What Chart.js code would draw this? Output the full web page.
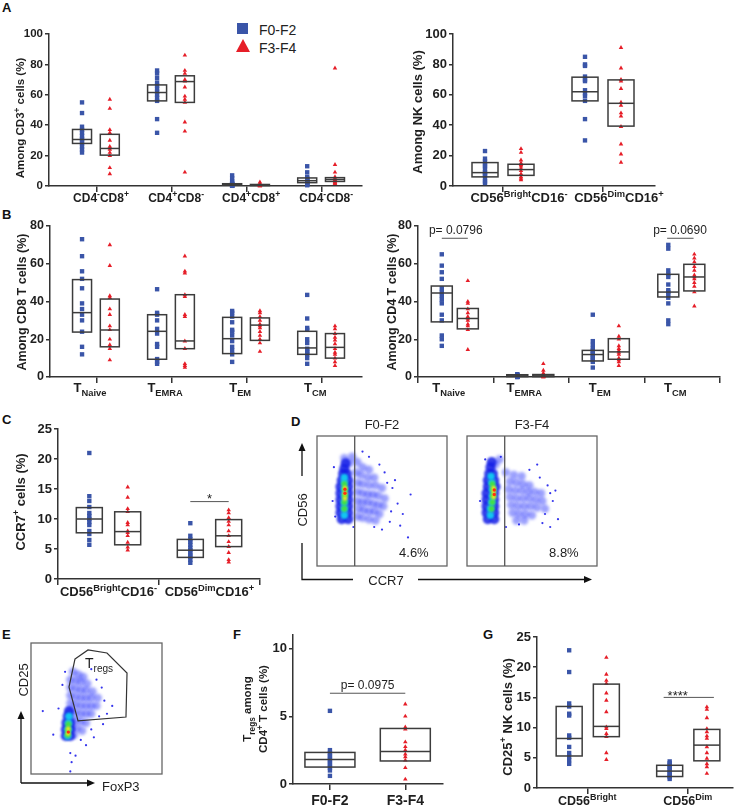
<!DOCTYPE html>
<html>
<head>
<meta charset="utf-8">
<script src="https://cdn.jsdelivr.net/npm/chart.js@4.4.1/dist/chart.umd.min.js"></script>
<style>
  body { margin: 0; background: #fff; }
  #fig { position: relative; width: 740px; height: 812px; overflow: hidden; font-family: 'Liberation Sans', Arial, sans-serif; }
  #fig canvas { position: absolute; left: 0; top: 0; }
  .tag { position: absolute; font-weight: bold; font-size: 13px; line-height: 13px; color: #111; }
  .leg { position: absolute; font-size: 14px; line-height: 14px; color: #222; }
</style>
</head>
<body>
<div id="fig">
  <div class="tag" style="left:2px;top:1px">A</div>
  <div class="tag" style="left:2px;top:208px">B</div>
  <div class="tag" style="left:2px;top:413px">C</div>
  <div class="tag" style="left:291px;top:415px">D</div>
  <div class="tag" style="left:2px;top:628px">E</div>
  <div class="tag" style="left:233px;top:628px">F</div>
  <div class="tag" style="left:483px;top:628px">G</div>
  <div style="position:absolute;left:237px;top:23px;width:11px;height:11px;background:#3a55a8"></div>
  <div style="position:absolute;left:236px;top:39px;width:0;height:0;border-left:7px solid transparent;border-right:7px solid transparent;border-bottom:13px solid #e61e28"></div>
  <div class="leg" style="left:259px;top:23px">F0-F2</div>
  <div class="leg" style="left:259px;top:41px">F3-F4</div>
</div>
<script>
// ---- panel A: CD3 subsets ----
const aLeftCats = ['CD4^{-}CD8^{+}', 'CD4^{+}CD8^{-}', 'CD4^{+}CD8^{+}', 'CD4^{-}CD8^{-}'];
const aLeftF02 = [
  [55, 48, 39, 37, 35, 33, 31, 30, 28, 26, 24, 22],
  [76, 74, 71, 68, 66, 64, 62, 60, 58, 56, 44, 35],
  [7, 5, 3, 2, 1.5, 1, 1, 0.5, 0.5, 0.3, 0.2, 0.1],
  [13, 9, 6, 5, 4, 3.5, 3, 2.5, 2, 1.5, 1, 0.5]
];
const aLeftF34 = [
  [57, 51, 37, 35, 30, 26, 25, 24, 22, 20, 12, 8],
  [86, 76, 74, 70, 69, 65, 59, 57, 55, 42, 36, 9],
  [2.5, 1.5, 1, 1, 0.8, 0.5, 0.5, 0.3, 0.2, 0.2, 0.1, 0.1],
  [77.5, 14, 9, 6, 5, 4.5, 4, 3.5, 3, 2.5, 2, 1.5]
];
const aLeftF02Box = [[28, 30.6, 37.2], [56, 61.5, 66.5], [0.5, 1, 1.5], [2.2, 3.5, 5.3]];
const aLeftF34Box = [[20.3, 24.7, 34], [55, 68.7, 72.5], [0.3, 0.6, 1], [3, 4.3, 5.5]];

// ---- panel A: NK subsets ----
const aRightCats = ['CD56^{Bright}CD16^{-}', 'CD56^{Dim}CD16^{+}'];
const aRightF02 = [
  [23, 18, 16, 14, 13, 11, 9, 8, 7, 5, 3, 2],
  [85, 80, 79, 72, 70, 69, 63, 61, 59, 56, 44, 30]
];
const aRightF34 = [
  [24.5, 22, 17, 15, 14, 13, 11.5, 10, 8, 6, 5, 4],
  [91, 77.5, 70, 69, 64, 55, 53, 48, 46, 39, 27.5, 21, 15.5]
];
const aRightF02Box = [[6, 8.8, 15.4], [56, 62, 71.6]];
const aRightF34Box = [[7, 10.8, 14.3], [39.4, 54.4, 69.8]];

// ---- panel B ----
const bCats = ['T_{Naive}', 'T_{EMRA}', 'T_{EM}', 'T_{CM}'];
const bLeftF02 = [
  [73, 64, 56, 52, 47, 39, 36, 33, 30, 24, 16, 12],
  [46.5, 34, 33, 30, 25.5, 23, 17.5, 16, 9.5, 8, 7],
  [35, 34, 32, 29, 25, 24, 22, 19, 16, 14, 12, 8],
  [43.5, 31, 26, 25, 20, 18, 15, 14, 13, 12, 10, 7]
];
const bLeftF34 = [
  [70, 59, 43, 42, 36, 33, 27, 25, 20, 17, 15, 9],
  [64, 56, 55, 43.5, 42.5, 33, 32, 19, 15, 7, 6, 5],
  [35, 34, 32, 30, 28, 27, 26, 24, 22, 20, 18, 13.5],
  [27, 25.5, 23, 21, 19.5, 17.5, 15, 13, 12, 10, 8, 6]
];
const bLeftF02Box = [[23.8, 34.1, 51.6], [9.4, 24.2, 33], [12.4, 20.3, 31.6], [12, 15.4, 24.2]];
const bLeftF34Box = [[16, 24.9, 41.3], [15, 19.1, 43.6], [19.4, 27.5, 31.3], [10, 15.7, 23]];

const bRightF02 = [
  [65, 59, 55.5, 52, 47, 45, 43, 41, 39, 33, 30, 22, 20, 16.5],
  [1.5, 1.2, 1, 0.8, 0.6, 0.5, 0.3, 0.2, 0.1, 0.1, 0, 0],
  [33, 19, 17, 15, 14, 13, 12, 11, 10, 9, 8, 5],
  [70, 68, 56.5, 54.5, 53, 49, 46, 45, 44, 42, 39, 30, 28]
];
const bRightF34 = [
  [51, 40, 39, 36, 34, 32, 31, 30, 28, 27, 25, 14.5],
  [7, 3.5, 2, 1.5, 1, 0.8, 0.5, 0.3, 0.2, 0.1, 0, 0],
  [27, 21.5, 20, 16.5, 15, 14, 13, 12, 10, 9, 8, 6],
  [65, 63, 61, 58.5, 56.5, 54, 53, 52, 50, 48, 45, 37.5]
];
const bRightF02Box = [[29.2, 44.5, 48.2], [0.2, 0.6, 1.2], [8.5, 11.9, 14.1], [42.4, 45, 54.4]];
const bRightF34Box = [[25.5, 31, 36.3], [0.2, 0.6, 1.3], [9.4, 13.3, 20.3], [45.6, 53, 59.7]];

// ---- panel C ----
const cF02 = [
  [21, 13.8, 13, 12, 11, 10.5, 10, 9.5, 9, 8, 7.5, 6.5, 5.7],
  [9.3, 7.2, 6.6, 6.2, 5.7, 5.2, 4.8, 4.4, 4, 3.7, 3.2, 2.7]
];
const cF34 = [
  [15.3, 13.6, 11.7, 11.2, 9.4, 9, 8, 7.7, 7.2, 6.1, 5.3, 4.8],
  [11.5, 11, 10.2, 9.6, 9, 8, 7.2, 6.2, 5.4, 4.4, 3.2, 2.8]
];
const cF02Box = [[7.7, 10, 11.9], [3.6, 4.8, 6.6]];
const cF34Box = [[5.7, 7.9, 11.2], [5.4, 7.2, 9.9]];

// ---- panel F ----
const fCats = ['F0-F2', 'F3-F4'];
const fF02 = [5.4, 2.5, 2.3, 2.1, 2, 1.8, 1.7, 1.5, 1.4, 1.2, 1, 0.6];
const fF34 = [5.9, 5, 4.2, 4.05, 3.1, 2.75, 2.5, 2.2, 2, 1.75, 1.2, 0.35];
const fF02Box = [1.25, 1.8, 2.33];
const fF34Box = [1.7, 2.4, 4.1];

// ---- panel G ----
const gCats = ['CD56^{Bright}', 'CD56^{Dim}'];
const gF02 = [
  [22.8, 19.2, 14, 13.5, 12.3, 12, 8.7, 8.3, 6.8, 5.8, 5.2, 4.6, 4],
  [4.4, 4.1, 3.8, 3.5, 3.2, 2.9, 2.6, 2.3, 2, 1.8, 1.5]
];
const gF34 = [
  [21.6, 18.8, 17.8, 17.3, 15.7, 14.5, 12.6, 10.1, 9.8, 9, 8.5, 5.8, 4.7],
  [13.4, 13, 11.6, 9.8, 9.3, 8.6, 8.2, 6.8, 5.8, 4.9, 4, 3.5, 2.4]
];
const gF02Box = [[5.3, 8.2, 13.5], [1.9, 2.8, 3.76]];
const gF34Box = [[8.5, 10.2, 17.2], [4.5, 7.1, 9.7]];

// ---- panel D: CD56 vs CCR7 dot plots (hand-placed density blobs) ----
const dTitles = ['F0-F2', 'F3-F4'];
const dPercent = ['4.6%', '8.8%'];
const dGateX = 29;
const d1Core = [[19,36],[24,36],[18,41],[24,41],[18,46],[24,46],[18,51],[24,51],[18,56],[24,56],[18,61],[24,61],[19,66],[24,66],[20,71],[23,71],[21,75],[22,79]];
const d1Cloud = [[27,84],[31,80],[35,76],[40,74],[30,72],[34,70],[39,68],[44,68],[31,64],[35,63],[40,62],[45,62],[50,60],
  [31,57],[35,56],[39,55],[43,55],[47,54],[52,52],[31,50],[35,49],[39,49],[43,48],[47,47],[51,46],
  [32,44],[36,43],[40,42],[44,42],[48,40],[31,38],[35,37],[40,36],[45,35],[21,83],[25,79]];
const d1Sparse = [[58,60],[62,48],[56,34],[66,40],[72,55],[70,22],[50,28],[13,76],[12,50],[40,84],[52,72],[60,66],[44,30],[35,88],[64,31],[14,38],[28,30],[57,42],[54,64],[48,78]];
const d1Cyan = [[21,39],[21,44],[21,49],[21,54],[21,59],[21,64],[21,68]];
const d1Green = [[21,44],[21,49],[21.5,54],[21.5,59],[21,63]];
const d1Yellow = [[21.5,52],[21.5,56],[21.5,60]];
const d1Red = [[21.5,56],[21.5,59]];

const d2Core = [[16,36],[21,36],[15,41],[21,41],[15,46],[21,46],[15,51],[21,51],[15,56],[21,56],[16,61],[22,61],[16,66],[21,66],[17,71],[20,71],[18,76],[19,80]];
const d2Cloud = [[30,72],[36,70],[42,69],[33,65],[38,64],[43,63],[48,62],[32,59],[37,58],[42,58],[47,57],[52,57],[57,56],
  [33,53],[38,52],[43,52],[48,52],[53,51],[58,50],[34,47],[39,46],[44,46],[49,46],[54,45],[60,44],
  [35,41],[40,40],[45,40],[50,39],[38,35],[44,35],[25,82],[22,78]];
const d2Sparse = [[62,62],[66,50],[60,40],[70,36],[56,68],[48,74],[26,84],[14,82],[10,50],[64,30],[58,33],[40,32],[54,78],[68,58],[30,30],[64,56]];
const d2Cyan = [[18,39],[18,44],[19,49],[19.5,54],[19.5,59],[19,64],[18.5,69]];
const d2Green = [[19,44],[19.5,49],[20,54],[20,59],[19.5,63]];
const d2Yellow = [[20.5,53],[20.5,57],[20.5,60]];
const d2Red = [[21,55],[21,58.5]];

// ---- panel E: CD25 vs FoxP3 ----
const eCloud = [[32,78],[36,76],[40,74],[30,72],[34,71],[38,70],[43,69],[30,66],[34,65],[38,64],[42,64],[47,63],
  [30,60],[34,59],[38,58],[42,58],[46,58],[51,58],[30,54],[34,53],[38,52],[42,52],[46,52],[50,52],
  [30,48],[34,47],[38,46],[42,46],[46,46],[30,42],[34,41],[38,40],[42,39],[31,36],[35,35],[39,33],[33,30]];
const eCore = [[26.5,29],[30,29],[26.5,34],[30,34],[27,39],[30,39],[28,44],[29,48]];
const eSparse = [[50,72],[54,66],[56,56],[52,44],[46,34],[38,26],[42,22],[30,16],[31,9],[30,2],[17,30],[9,48],[21,50],[58,46],[46,80],[24,68],[62,52],[34,14],[48,28],[26,78],[55,38]];
const eCyan = [[28,29],[28.3,34],[28.6,39],[29,44]];
const eGreen = [[28,30],[28.3,34],[28.5,38]];
const eYellow = [[28.3,31],[28.4,34.5]];
const eRed = [[28.5,32]];
const eGate = [[33.6,87.8],[43.5,94.7],[58,92.4],[73.3,77.1],[72.5,43.5],[35.9,40.5],[29,66.4]];

const BLUE = '#3a55a8', RED = '#e61e28', AX = '#333', BOXC = '#3c3c3c', TXT = '#1e1e1e';
const FONT = "'Liberation Sans', Arial, Helvetica, sans-serif";
// radius, colour, blur for each density level
const DENS = {
  sparse: [1.1, 'rgba(30,30,235,0.9)', 0],
  cloud: [4.2, 'rgba(20,30,250,0.42)', 1.4],
  core: [5, 'rgba(20,30,230,0.85)', 1.2],
  cyan: [3.8, 'rgba(20,205,240,0.95)', 1.2],
  green: [3, 'rgba(70,225,60,0.95)', 1],
  yellow: [2.3, '#f2e41e', 0.8],
  red: [1.7, '#ff3010', 0.6]
};
const fig = document.getElementById('fig');

function canvas() {
  const c = document.createElement('canvas');
  c.width = 740; c.height = 812;
  fig.appendChild(c);
  return c;
}

// "CD4^{+}CD8^{-}" / "T_{EM}" -> segments with sup/sub
function parseRich(s) {
  const out = [], re = /([\^_])\{([^}]*)\}/g;
  let last = 0, m;
  while ((m = re.exec(s))) {
    if (m.index > last) out.push([s.slice(last, m.index), '']);
    out.push([m[2], m[1] === '^' ? 'sup' : 'sub']);
    last = re.lastIndex;
  }
  if (last < s.length) out.push([s.slice(last), '']);
  return out;
}

function drawRich(ctx, s, x, y, size, weight, align) {
  const segs = parseRich(s);
  const font = k => `${weight} ${k ? size * 0.72 : size}px ${FONT}`;
  let total = 0;
  const ws = segs.map(([t, k]) => { ctx.font = font(k); const w = ctx.measureText(t).width; total += w; return w; });
  let cx = align === 'center' ? x - total / 2 : align === 'right' ? x - total : x;
  ctx.textAlign = 'left';
  ctx.textBaseline = 'alphabetic';
  segs.forEach(([t, k], i) => {
    ctx.font = font(k);
    ctx.fillText(t, cx, y + (k === 'sup' ? -size * 0.4 : k === 'sub' ? size * 0.3 : 0));
    cx += ws[i];
  });
}

function vText(ctx, s, x, y, size, weight) {
  ctx.save();
  ctx.translate(x, y);
  ctx.rotate(-Math.PI / 2);
  drawRich(ctx, s, 0, size * 0.36, size, weight, 'center');
  ctx.restore();
}

function arrow(ctx, x1, y1, x2, y2) {
  const ang = Math.atan2(y2 - y1, x2 - x1), L = 8, H = 3.5;
  ctx.beginPath(); ctx.moveTo(x1, y1);
  ctx.lineTo(x2 - Math.cos(ang) * L, y2 - Math.sin(ang) * L); ctx.stroke();
  ctx.beginPath();
  ctx.moveTo(x2, y2);
  ctx.lineTo(x2 - Math.cos(ang) * L - Math.sin(ang) * H, y2 - Math.sin(ang) * L + Math.cos(ang) * H);
  ctx.lineTo(x2 - Math.cos(ang) * L + Math.sin(ang) * H, y2 - Math.sin(ang) * L - Math.cos(ang) * H);
  ctx.closePath(); ctx.fill();
}

function boxPanel(p) {
  const [l, t, r, b] = p.area;
  const yw = 40, xh = 26;
  const datasets = p.groups.map(g => ({
    data: g.vals.flatMap((col, i) => (col || []).map(v => ({x: i + g.off, y: v}))),
    pointStyle: g.red ? 'triangle' : 'rect',
    pointRadius: g.red ? 2.6 : 3.1,
    backgroundColor: g.red ? RED : BLUE,
    borderWidth: 0,
    clip: false
  }));
  new Chart(canvas(), {
    type: 'scatter',
    data: {datasets},
    options: {
      responsive: false, animation: false, events: [],
      layout: {padding: {left: l - yw, top: t, right: 740 - r, bottom: 812 - b - xh}},
      plugins: {legend: {display: false}, tooltip: {enabled: false}},
      scales: {
        x: {
          type: 'linear', min: p.xMin, max: p.xMax,
          afterFit: s => { s.height = xh; },
          ticks: {display: false, stepSize: 1, includeBounds: false},
          grid: {drawOnChartArea: false, tickLength: 6, color: AX, lineWidth: 1.5},
          border: {color: AX, width: 1.5}
        },
        y: {
          min: 0, max: p.yMax,
          afterFit: s => { s.width = yw; },
          ticks: {stepSize: p.yStep, includeBounds: false, color: TXT, padding: 2,
                  font: {family: FONT, size: p.tickSize, weight: 'bold'}},
          grid: {drawOnChartArea: false, tickLength: 4, color: AX, lineWidth: 1.5},
          border: {color: AX, width: 1.5}
        }
      }
    },
    plugins: [{
      id: 'deco',
      afterDatasetsDraw(chart) {
        const {ctx, scales: {x, y}} = chart;
        ctx.save();
        ctx.strokeStyle = BOXC; ctx.lineWidth = 1.5;
        p.groups.forEach(g => g.box.forEach((bx, i) => {
          if (!bx) return;
          const cx = x.getPixelForValue(i + g.off), w = p.boxW;
          const [q1, md, q3] = bx.map(v => y.getPixelForValue(v));
          ctx.strokeRect(cx - w / 2, q3, w, q1 - q3);
          ctx.beginPath(); ctx.moveTo(cx - w / 2, md); ctx.lineTo(cx + w / 2, md); ctx.stroke();
        }));
        ctx.fillStyle = TXT;
        p.cats.forEach((c, i) => drawRich(ctx, c, x.getPixelForValue(i) + (p.labelDx || 0), p.labelY, p.labelSize, 'bold', 'center'));
        p.titles.forEach(([s, tx]) => vText(ctx, s, tx, p.titleY, p.titleSize, 'bold'));
        (p.notes || []).forEach(n => {
          const py = y.getPixelForValue(n.y);
          ctx.strokeStyle = '#555'; ctx.lineWidth = 1;
          ctx.beginPath(); ctx.moveTo(x.getPixelForValue(n.a), py); ctx.lineTo(x.getPixelForValue(n.b), py); ctx.stroke();
          drawRich(ctx, n.text, x.getPixelForValue(n.tx !== undefined ? n.tx : (n.a + n.b) / 2), py + n.dy, n.size, 'normal', 'center');
        });
        ctx.restore();
      }
    }]
  });
}

function flowPanel(area, layers, deco) {
  const [l, t, r, b] = area;
  new Chart(canvas(), {
    type: 'scatter',
    data: {
      datasets: layers.map(([pts, st]) => ({
        data: pts.map(([px, py]) => ({x: px, y: py})),
        pointRadius: DENS[st][0], backgroundColor: DENS[st][1], borderWidth: 0
      }))
    },
    options: {
      responsive: false, animation: false, events: [],
      layout: {padding: {left: l, top: t, right: 740 - r, bottom: 812 - b}},
      plugins: {legend: {display: false}, tooltip: {enabled: false}},
      scales: {
        x: {type: 'linear', display: false, min: 0, max: 100},
        y: {display: false, min: 0, max: 100}
      }
    },
    plugins: [{
      id: 'frame',
      // soften each density level a little so the blobs read as a smooth cloud
      beforeDatasetDraw(chart, args) {
        chart.ctx.save();
        const blur = DENS[layers[args.index][1]][2];
        if (blur) chart.ctx.filter = `blur(${blur}px)`;
      },
      afterDatasetDraw(chart) { chart.ctx.restore(); },
      afterDatasetsDraw(chart) { deco(chart); }
    }]
  });
}

function dFrame(chart, k) {
  const {ctx, chartArea: a, scales: {x}} = chart;
  ctx.save();
  ctx.strokeStyle = '#666'; ctx.lineWidth = 1.3;
  ctx.strokeRect(a.left, a.top, a.width, a.height);
  const gx = x.getPixelForValue(dGateX);
  ctx.strokeStyle = '#555';
  ctx.beginPath(); ctx.moveTo(gx, a.top); ctx.lineTo(gx, a.bottom); ctx.stroke();
  ctx.fillStyle = TXT;
  drawRich(ctx, dTitles[k], (a.left + a.right) / 2, a.top - 7, 13, 'normal', 'center');
  drawRich(ctx, dPercent[k], a.left + 0.745 * a.width, a.bottom - 9, 13, 'normal', 'center');
  if (k === 0) {
    ctx.strokeStyle = '#111'; ctx.fillStyle = '#111'; ctx.lineWidth = 1.3;
    const ax = a.left - 15;
    arrow(ctx, ax, a.top + 40, ax, a.top + 7);
    ctx.beginPath();
    ctx.moveTo(ax, a.top + 107); ctx.lineTo(ax, a.bottom + 13.5); ctx.lineTo(a.left + 36, a.bottom + 13.5);
    ctx.stroke();
    arrow(ctx, a.left + 101, a.bottom + 13.5, a.left + 275, a.bottom + 13.5);
    ctx.fillStyle = TXT;
    vText(ctx, 'CD56', ax, a.top + 74, 13, 'normal');
    drawRich(ctx, 'CCR7', a.left + 69, a.bottom + 19, 13, 'normal', 'center');
  }
  ctx.restore();
}

// A
boxPanel({
  area: [49, 34, 362, 186], xMin: -0.64, xMax: 3.53, yMax: 100, yStep: 20, tickSize: 11.5,
  cats: aLeftCats, labelY: 202, labelSize: 12, labelDx: 4, boxW: 19,
  titles: [['Among CD3^{+} cells (%)', 20]], titleY: 118, titleSize: 11.5,
  groups: [
    {vals: aLeftF02, box: aLeftF02Box, off: -0.2},
    {vals: aLeftF34, box: aLeftF34Box, off: 0.17, red: true}
  ]
});
boxPanel({
  area: [453, 34, 655, 186], xMin: -0.5, xMax: 1.52, yMax: 100, yStep: 20, tickSize: 13,
  cats: aRightCats, labelY: 202, labelSize: 13, labelDx: 16, boxW: 26,
  titles: [['Among NK cells (%)', 417]], titleY: 112, titleSize: 13,
  groups: [
    {vals: aRightF02, box: aRightF02Box, off: -0.18},
    {vals: aRightF34, box: aRightF34Box, off: 0.18, red: true}
  ]
});
// B
boxPanel({
  area: [50, 226, 362, 377], xMin: -0.627, xMax: 3.53, yMax: 80, yStep: 20, tickSize: 12.5,
  cats: bCats, labelY: 392, labelSize: 13, labelDx: -7, boxW: 19,
  titles: [['Among CD8 T cells (%)', 21]], titleY: 302, titleSize: 12.5,
  groups: [
    {vals: bLeftF02, box: bLeftF02Box, off: -0.2},
    {vals: bLeftF34, box: bLeftF34Box, off: 0.17, red: true}
  ]
});
boxPanel({
  area: [418, 226, 720, 377], xMin: -0.5, xMax: 3.5, yMax: 80, yStep: 20, tickSize: 12.5,
  cats: bCats, labelY: 392, labelSize: 13, labelDx: -7, boxW: 21,
  titles: [['Among CD4 T cells (%)', 391]], titleY: 302, titleSize: 12.5,
  groups: [
    {vals: bRightF02, box: bRightF02Box, off: -0.185},
    {vals: bRightF34, box: bRightF34Box, off: 0.16, red: true}
  ],
  notes: [
    {a: -0.185, b: 0.16, y: 73.5, text: 'p= 0.0796', dy: -4, size: 12, tx: 0},
    {a: 2.8, b: 3.15, y: 73.5, text: 'p= 0.0690', dy: -4, size: 12, tx: 2.97}
  ]
});
// C
boxPanel({
  area: [58, 429, 260, 579], xMin: -0.5, xMax: 1.5, yMax: 25, yStep: 5, tickSize: 13,
  cats: aRightCats, labelY: 596, labelSize: 13, labelDx: 0, boxW: 26,
  titles: [['CCR7^{+} cells (%)', 20]], titleY: 502, titleSize: 13,
  groups: [
    {vals: cF02, box: cF02Box, off: -0.19},
    {vals: cF34, box: cF34Box, off: 0.19, red: true}
  ],
  notes: [{a: 0.81, b: 1.19, y: 12.9, text: '*', dy: 1, size: 13}]
});
// F
boxPanel({
  area: [293, 635, 443, 784], xMin: -0.49, xMax: 1.5, yMax: 11, yStep: 5, tickSize: 13,
  cats: fCats, labelY: 805, labelSize: 14, labelDx: 0, boxW: 50,
  titles: [['T_{regs} among', 247], ['CD4^{+} T cells (%)', 263]], titleY: 709, titleSize: 11.5,
  groups: [
    {vals: [fF02, null], box: [fF02Box, null], off: 0},
    {vals: [null, fF34], box: [null, fF34Box], off: 0, red: true}
  ],
  notes: [{a: 0, b: 1, y: 6.7, text: 'p= 0.0975', dy: -4, size: 12}]
});
// G
boxPanel({
  area: [537, 637, 733, 788], xMin: -0.5, xMax: 1.45, yMax: 25, yStep: 5, tickSize: 13,
  cats: gCats, labelY: 805, labelSize: 12.5, labelDx: 0, boxW: 26,
  titles: [['CD25^{+} NK cells (%)', 507]], titleY: 717, titleSize: 13,
  groups: [
    {vals: gF02, box: gF02Box, off: -0.18},
    {vals: gF34, box: gF34Box, off: 0.19, red: true}
  ],
  notes: [{a: 0.76, b: 1.26, y: 15, text: '****', dy: 3, size: 13, tx: 0.9}]
});

// D
flowPanel([317, 436, 447, 566],
  [[d1Red, 'red'], [d1Yellow, 'yellow'], [d1Green, 'green'], [d1Cyan, 'cyan'], [d1Core, 'core'], [d1Cloud, 'cloud'], [d1Sparse, 'sparse']],
  chart => dFrame(chart, 0));
flowPanel([467, 436, 597, 566],
  [[d2Red, 'red'], [d2Yellow, 'yellow'], [d2Green, 'green'], [d2Cyan, 'cyan'], [d2Core, 'core'], [d2Cloud, 'cloud'], [d2Sparse, 'sparse']],
  chart => dFrame(chart, 1));

// E
flowPanel([31, 643, 162, 774],
  [[eRed, 'red'], [eYellow, 'yellow'], [eGreen, 'green'], [eCyan, 'cyan'], [eCore, 'core'], [eCloud, 'cloud'], [eSparse, 'sparse']],
  chart => {
    const {ctx, chartArea: a, scales: {x, y}} = chart;
    ctx.save();
    ctx.strokeStyle = '#666'; ctx.lineWidth = 1.3;
    ctx.strokeRect(a.left, a.top, a.width, a.height);
    ctx.strokeStyle = '#333'; ctx.lineWidth = 1.2;
    ctx.beginPath();
    eGate.forEach(([gx, gy], i) => {
      const px = x.getPixelForValue(gx), py = y.getPixelForValue(gy);
      if (i) ctx.lineTo(px, py); else ctx.moveTo(px, py);
    });
    ctx.closePath(); ctx.stroke();
    ctx.fillStyle = TXT;
    drawRich(ctx, 'T_{regs}', x.getPixelForValue(41.2), y.getPixelForValue(80.9), 14, 'normal', 'left');
    ctx.strokeStyle = '#111'; ctx.fillStyle = '#111'; ctx.lineWidth = 1.3;
    arrow(ctx, a.left - 10, a.bottom + 9, a.left - 10, a.bottom - 63);
    arrow(ctx, a.left - 10, a.bottom + 9, a.left + 64, a.bottom + 9);
    ctx.fillStyle = TXT;
    vText(ctx, 'CD25', a.left - 8, a.top + 37, 13, 'normal');
    drawRich(ctx, 'FoxP3', a.left + 71, a.bottom + 16.5, 13, 'normal', 'left');
    ctx.restore();
  });
</script>
</body>
</html>
